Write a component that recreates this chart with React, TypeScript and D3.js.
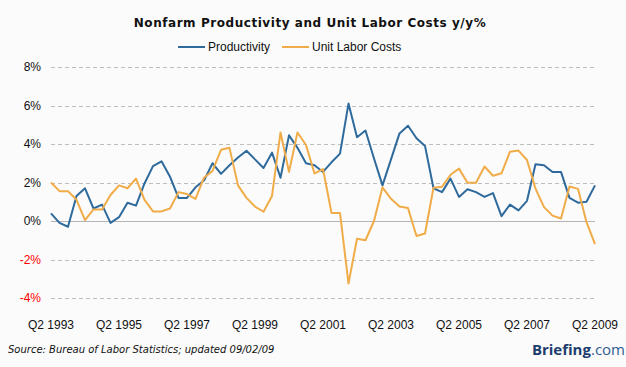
import { useEffect, useRef } from 'react';
import * as d3 from 'd3';

// quarterly y/y %, Q2 1993 .. Q2 2009
const productivity = [
  0.4, -0.1, -0.3, 1.3, 1.7, 0.65, 0.85, -0.1, 0.2, 0.95,
  0.8, 1.95, 2.85, 3.1, 2.3, 1.2, 1.2, 1.75, 2.1, 3.0,
  2.45, 2.9, 3.3, 3.65, 3.2, 2.75, 3.55, 2.25, 4.45, 3.8,
  3.0, 2.9, 2.55, 3.05, 3.5, 6.1, 4.35, 4.7, 3.25, 1.85,
  3.2, 4.55, 4.95, 4.3, 3.9, 1.7, 1.5, 2.2, 1.25, 1.65,
  1.5, 1.25, 1.45, 0.25, 0.85, 0.55, 1.05, 2.95, 2.9, 2.55,
  2.55, 1.2, 0.95, 1.0, 1.85,
];

const unitLaborCosts = [
  2.0, 1.55, 1.55, 1.1, 0.05, 0.6, 0.6, 1.35, 1.85, 1.7,
  2.2, 1.1, 0.5, 0.5, 0.65, 1.5, 1.4, 1.15, 2.25, 2.6,
  3.7, 3.8, 1.85, 1.2, 0.75, 0.48, 1.3, 4.6, 2.55, 4.6,
  3.95, 2.47, 2.7, 0.42, 0.42, -3.25, -0.92, -1.0, 0.0, 1.75,
  1.15, 0.75, 0.67, -0.78, -0.65, 1.73, 1.78, 2.4, 2.72, 1.99,
  1.99, 2.83, 2.35, 2.48, 3.6, 3.66, 3.17, 1.68, 0.72, 0.28,
  0.13, 1.79, 1.67, -0.06, -1.2,
];

const xTickLabels = [
  'Q2 1993', 'Q2 1995', 'Q2 1997', 'Q2 1999', 'Q2 2001',
  'Q2 2003', 'Q2 2005', 'Q2 2007', 'Q2 2009',
];
const yTicks = [-4, -2, 0, 2, 4, 6, 8];

const BLUE = '#2f6a9c';
const ORANGE = '#f0ac48';

export default function App() {
  const ref = useRef<SVGSVGElement>(null);

  useEffect(() => {
    if (!ref.current) return;
    document.body.style.margin = '0';
    const svg = d3.select(ref.current);
    svg.selectAll('*').remove();

    const W = 626, H = 367;
    const x = d3.scaleLinear().domain([0, productivity.length - 1]).range([51, 595]);
    const y = d3.scaleLinear().domain([-4, 8]).range([298, 67]);

    svg.append('rect').attr('width', W).attr('height', H).attr('fill', '#fbfbfb');

    // title
    svg.append('text')
      .attr('x', 310).attr('y', 27)
      .attr('text-anchor', 'middle')
      .style('font-family', 'DejaVu Sans, sans-serif')
      .style('font-weight', 'bold')
      .style('font-size', '12px')
      .style('letter-spacing', '0.55px')
      .attr('fill', '#111')
      .text('Nonfarm Productivity and Unit Labor Costs y/y%');

    // legend
    const legend = [
      { name: 'Productivity', color: BLUE, x: 178 },
      { name: 'Unit Labor Costs', color: ORANGE, x: 282 },
    ];
    const lg = svg.append('g').selectAll('g').data(legend).enter().append('g');
    lg.append('line')
      .attr('x1', d => d.x).attr('x2', d => d.x + 27)
      .attr('y1', 47).attr('y2', 47)
      .attr('stroke', d => d.color).attr('stroke-width', 2);
    lg.append('text')
      .attr('x', d => d.x + 30).attr('y', 51)
      .style('font-family', 'Liberation Sans, Arial, sans-serif')
      .style('font-size', '12px')
      .attr('fill', '#111')
      .text(d => d.name);

    // grid
    svg.append('g').selectAll('line').data(yTicks).enter().append('line')
      .attr('x1', 51).attr('x2', 595)
      .attr('y1', d => Math.round(y(d)) + 0.5).attr('y2', d => Math.round(y(d)) + 0.5)
      .attr('stroke', d => (d === 0 ? '#b4b4b4' : '#bdbdbd'))
      .attr('stroke-width', 1)
      .attr('stroke-dasharray', d => (d === 0 ? null : '4,3'));

    // y labels
    svg.append('g').selectAll('text').data(yTicks).enter().append('text')
      .attr('x', 41).attr('y', d => y(d) + 4)
      .attr('text-anchor', 'end')
      .style('font-family', 'Liberation Sans, Arial, sans-serif')
      .style('font-size', '12px')
      .attr('fill', d => (d < 0 ? '#ff0000' : '#111'))
      .text(d => `${d}%`);

    // x labels
    svg.append('g').selectAll('text').data(xTickLabels).enter().append('text')
      .attr('x', (_, i) => x(i * 8)).attr('y', 329)
      .attr('text-anchor', 'middle')
      .style('font-family', 'Liberation Sans, Arial, sans-serif')
      .style('font-size', '12px')
      .attr('fill', '#111')
      .text(d => d);

    // series
    const line = d3.line<number>().x((_, i) => x(i)).y(d => y(d));
    svg.append('path').datum(productivity)
      .attr('fill', 'none').attr('stroke', BLUE).attr('stroke-width', 2)
      .attr('stroke-linejoin', 'round').attr('d', line);
    svg.append('path').datum(unitLaborCosts)
      .attr('fill', 'none').attr('stroke', ORANGE).attr('stroke-width', 2)
      .attr('stroke-linejoin', 'round').attr('d', line);

    // footer
    svg.append('text')
      .attr('x', 8).attr('y', 353)
      .style('font-family', 'DejaVu Sans, sans-serif')
      .style('font-style', 'italic')
      .style('font-size', '10px')
      .attr('fill', '#111')
      .text('Source: Bureau of Labor Statistics; updated 09/02/09');

    const brand = svg.append('text')
      .attr('x', 625).attr('y', 355)
      .attr('text-anchor', 'end')
      .style('font-family', 'Open Sans, sans-serif')
      .style('font-size', '15px');
    brand.append('tspan').attr('fill', '#1d3d6e').style('font-weight', 'bold').text('Briefing');
    brand.append('tspan').attr('fill', '#2f5d93').text('.com');
  }, []);

  return (
    <svg
      ref={ref}
      width={626}
      height={367}
      style={{ position: 'absolute', left: 0, top: 0, display: 'block' }}
    />
  );
}
